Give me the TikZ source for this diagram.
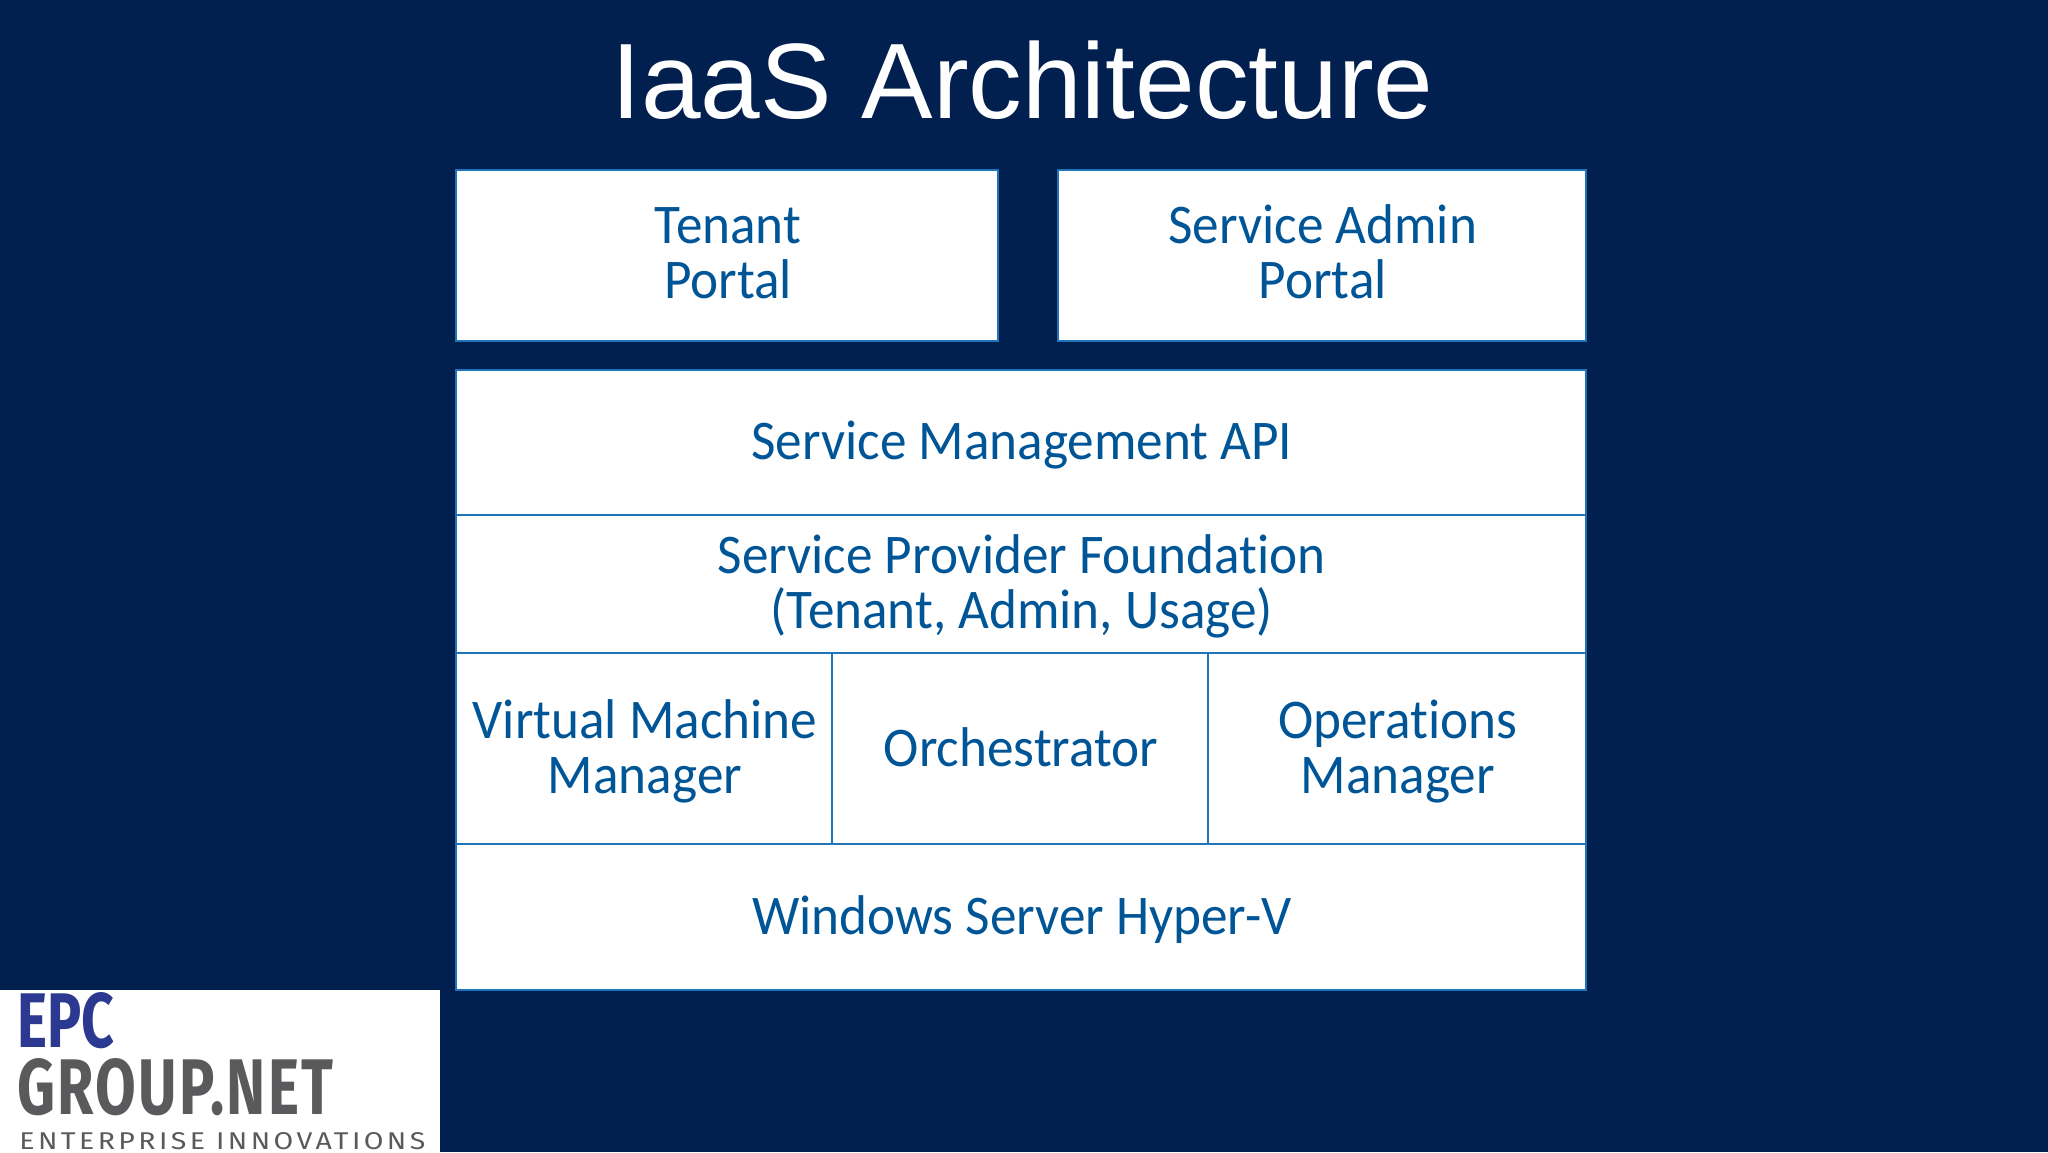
\documentclass[tikz,border=0pt]{standalone}
\usepackage{fontspec}
\usepackage{graphicx}
\setmainfont[FakeStretch=0.95,Ligatures=NoCommon]{Carlito}
\newfontfamily\titlefont{Liberation Sans}
\newfontfamily\logofont{Fira Sans}
\definecolor{bgnavy}{HTML}{02204F}
\definecolor{edgeblue}{HTML}{1F74B8}
\definecolor{inkblue}{HTML}{005596}
\definecolor{logoblue}{HTML}{2B3990}
\definecolor{logogray}{HTML}{5A5A5C}
\tikzset{
  panel/.style={draw=edgeblue,line width=1pt,fill=white},
  paneltext/.style={text=inkblue,inner sep=0pt,align=center,
    font=\fontsize{28}{27.5}\selectfont},
  logotext/.style={inner sep=0pt,anchor=base west}
}
\newcommand{\topstrut}{\rule{0pt}{0.82em}}
\newcommand{\botstrut}{\rule[-0.18em]{0pt}{0pt}}
% name, x1, y1, x2, y2, vertical shift, text
\newcommand{\panelbox}[7]{%
  \path[panel] (#2,#3) rectangle (#4,#5);
  \node[paneltext] (#1) at ({(#2+#4)/2+1},{(#3+#5)/2+#6}) {\topstrut #7\botstrut};
}
\begin{document}
\begin{tikzpicture}[x=0.5pt,y=-0.5pt]
\useasboundingbox (0,0) rectangle (2048,1152);
\fill[bgnavy] (0,0) rectangle (2048,1152);
\node[text=white,inner sep=0pt,anchor=base,font=\titlefont\fontsize{53.6}{60}\selectfont] (title) at (1022.5,118) {IaaS Architecture};
\panelbox{tenant}{456}{170}{998}{341}{-2}{Tenant\\Portal}
\panelbox{admin}{1058}{170}{1585.5}{341}{-2}{Service Admin\\Portal}
\panelbox{api}{456}{369.5}{1585.5}{514.5}{0}{Service Management API}
\panelbox{spf}{456}{514.5}{1585.5}{653}{-1}{Service Provider Foundation\\(Tenant, Admin, Usage)}
\panelbox{vmm}{456}{653}{832}{844}{0}{Virtual Machine\\Manager}
\panelbox{orch}{832}{653}{1208}{844}{0}{Orchestrator}
\panelbox{ops}{1208}{653}{1585.5}{844}{0}{Operations\\Manager}
\panelbox{hyperv}{456}{844}{1585.5}{990}{0}{Windows Server Hyper-V}
\fill[white] (0,990) rectangle (440,1152);
\node[logotext,text=logoblue] (epc) at (17,1047) {\resizebox{48.5pt}{27.5pt}{\logofont\bfseries EPC}};
\node[logotext,text=logogray] (group) at (17,1114) {\resizebox{158pt}{28pt}{\logofont\bfseries\addfontfeature{LetterSpace=4}GROUP.NET}};
\node[logotext,text=logogray] (ent) at (19,1149) {\resizebox{203pt}{8.5pt}{\logofont\addfontfeature{LetterSpace=12}ENTERPRISE INNOVATIONS}};
\end{tikzpicture}
\end{document}
